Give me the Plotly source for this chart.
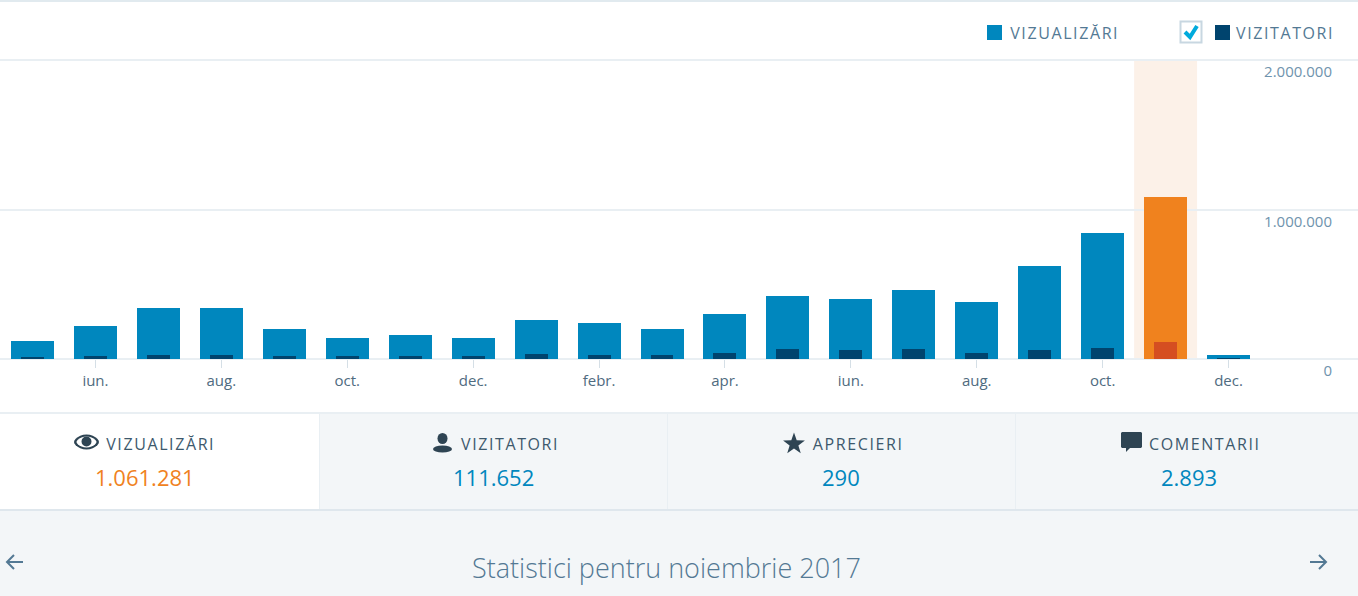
import math
import plotly.graph_objects as go

W, H = 1358, 596

positions = list(range(20))
views = [120000, 221000, 341000, 341000, 200000, 140000, 160000, 140000, 261000, 241000,
         200000, 301000, 421000, 401000, 461000, 381000, 622000, 843000, 1083000, 25000]
visitors = [14000, 20000, 27000, 27000, 20000, 20000, 20000, 20000, 33000, 27000,
            27000, 40000, 67000, 60000, 67000, 40000, 60000, 74000, 114000, 5000]
highlight_index = 18
tick_positions = [1, 3, 5, 7, 9, 11, 13, 15, 17, 19]
tick_labels = ["iun.", "aug.", "oct.", "dec.", "febr.", "apr.", "iun.", "aug.", "oct.", "dec."]
y_ticks = [0, 1000000, 2000000]
y_labels = ["0", "1.000.000", "2.000.000"]

BLUE, NAVY, ORANGE, RED = "#0087be", "#00446e", "#f0821e", "#d54e21"
PANEL, RULE, DARK, SLATE = "#f3f6f8", "#e9eff3", "#2e4453", "#537994"

def px(x): return x / W
def py(y): return 1 - y / H

def rect(x0, y0, x1, y1, fill, line=None, width=0, layer="below"):
    return dict(type="rect", xref="paper", yref="paper", x0=px(x0), x1=px(x1), y0=py(y0), y1=py(y1),
                fillcolor=fill, line=dict(color=line or fill, width=width), layer=layer)

def path(points, fill=None, line=None, width=0, close=True):
    d = "M" + " L".join(f"{px(a):.5f},{py(b):.5f}" for a, b in points) + (" Z" if close else "")
    return dict(type="path", xref="paper", yref="paper", path=d, layer="above",
                fillcolor=fill or "rgba(0,0,0,0)", line=dict(color=line or "rgba(0,0,0,0)", width=width))

def circle(cx, cy, rx, ry, fill):
    return dict(type="circle", xref="paper", yref="paper", x0=px(cx - rx), x1=px(cx + rx),
                y0=py(cy + ry), y1=py(cy - ry), fillcolor=fill, line=dict(width=0), layer="above")

def lens(cx, cy, rx, ry, fill):
    pts = [(cx + rx * math.cos(t / 24 * 2 * math.pi),
            cy + ry * math.sin(t / 24 * 2 * math.pi) * abs(math.sin(t / 24 * 2 * math.pi)) ** 0.25)
           for t in range(24)]
    return path(pts, fill=fill)

def star(cx, cy, R, r, fill):
    pts = []
    for k in range(10):
        a = -math.pi / 2 + k * math.pi / 5
        rad = R if k % 2 == 0 else r
        pts.append((cx + rad * math.cos(a), cy + rad * math.sin(a)))
    return path(pts, fill=fill)

def text(x, y, s, size, color, cls_weight=400):
    return dict(xref="paper", yref="paper", x=px(x), y=py(y), text=s, showarrow=False,
                xanchor="center", yanchor="middle",
                font=dict(family="Open Sans", size=size, color=color, weight=cls_weight))

shapes = [
    rect(0, 0, W, 2, "#e1eaef"),
    rect(0, 413, W, 596, PANEL),
    rect(0, 413, 320, 510, "#ffffff"),
    rect(0, 412, W, 414, RULE),
    rect(0, 509, W, 511, "#dfe7ed"),
    rect(319, 414, 320, 509, RULE),
    rect(667, 414, 668, 509, RULE),
    rect(1015, 414, 1016, 509, RULE),
    # highlighted month band, tied to the data axis
    dict(type="rect", xref="x", yref="paper", x0=highlight_index - 0.5, x1=highlight_index + 0.5,
         y0=py(359), y1=py(60), fillcolor="#fcf1e8", line=dict(width=0), layer="below"),
    # legend
    rect(987, 25, 1002, 40, BLUE, layer="above"),
    rect(1215, 25, 1230, 40, NAVY, layer="above"),
    rect(1180.5, 21.5, 1201.5, 42.5, "#ffffff", "#c8d7e1", 2, layer="above"),
    path([(1185, 32), (1190, 37), (1197, 26)], line="#00aadc", width=4, close=False),
    # eye
    lens(86.5, 442, 12.5, 7.5, DARK),
    lens(86.5, 442, 10, 5.5, "#ffffff"),
    circle(86.5, 441.5, 5, 5, DARK),
    # person
    circle(442.5, 438.5, 5, 5.5, DARK),
    circle(442.5, 449, 9.5, 3.6, DARK),
    # star
    star(794, 444, 11.5, 4.6, DARK),
    # speech bubble
    path([(1122, 432), (1141, 432), (1142, 433), (1142, 447), (1141, 448), (1130, 448),
          (1126, 452), (1126, 448), (1122, 448), (1121, 447), (1121, 433)], fill=DARK),
    # arrows
    path([(23, 562), (7, 562)], line=SLATE, width=2, close=False),
    path([(14, 555), (7, 562), (14, 569)], line=SLATE, width=2, close=False),
    path([(1310, 562), (1326, 562)], line=SLATE, width=2, close=False),
    path([(1319, 555), (1326, 562), (1319, 569)], line=SLATE, width=2, close=False),
]

annotations = [
    text(1064.5, 33, "VIZUALIZĂRI", 16, SLATE),
    text(1284.5, 33, "VIZITATORI", 16, SLATE),
    text(160.5, 444, "VIZUALIZĂRI", 16, "#3d596d"),
    text(509.5, 444, "VIZITATORI", 16, "#3d596d"),
    text(857.5, 444, "APRECIERI", 16, "#3d596d"),
    text(1204.5, 444, "COMENTARII", 16, "#3d596d"),
    text(145, 477, "1.061.281", 22, ORANGE),
    text(493.5, 477, "111.652", 22, BLUE),
    text(841, 477, "290", 22, BLUE),
    text(1189, 477, "2.893", 22, BLUE),
    text(666, 567, "Statistici pentru noiembrie 2017", 27, SLATE, 300),
]

fig = go.Figure()
fig.add_bar(x=positions, y=views, width=0.683, showlegend=False, name="Vizualizări",
            marker=dict(color=[ORANGE if i == highlight_index else BLUE for i in positions], line_width=0))
fig.add_bar(x=positions, y=visitors, width=0.365, showlegend=False, name="Vizitatori",
            marker=dict(color=[RED if i == highlight_index else NAVY for i in positions], line_width=0))

PX_PER_UNIT = 299 / 2000000
fig.update_layout(
    width=W, height=H, margin=dict(l=0, r=0, t=0, b=0, pad=0), autosize=False,
    paper_bgcolor="#ffffff", plot_bgcolor="rgba(0,0,0,0)", barmode="overlay", bargap=0,
    shapes=shapes, annotations=annotations,
    font=dict(family="Open Sans"),
    xaxis=dict(range=[-32.5 / 62.95, (W - 32.5) / 62.95], domain=[0, 1], tickmode="array",
               tickvals=tick_positions, ticktext=tick_labels, ticks="outside", ticklen=8, tickwidth=1,
               tickcolor="#d5dfe6", showgrid=False, zeroline=False, showline=False,
               tickfont=dict(family="Open Sans", size=15, color="#4f6b80"),
               anchor="free", position=py(359), tickangle=0),
    yaxis=dict(range=[-31 / PX_PER_UNIT, 319 / PX_PER_UNIT], domain=[py(390), py(40)], tickmode="array",
               tickvals=y_ticks, ticktext=y_labels, side="right", ticklabelposition="inside",
               ticklabelshift=12, ticklabelstandoff=23, ticks="", showgrid=True, gridcolor=RULE, gridwidth=2,
               zeroline=True, zerolinecolor=RULE, zerolinewidth=2, showline=False,
               tickfont=dict(family="Open Sans", size=15, color="#6f93ad"), anchor="x"),
)

post = """
document.body.style.margin='0';document.body.style.overflow='hidden';
document.querySelectorAll('.annotation-text').forEach(function(t){
  if(/^[A-ZĂ]+$/.test(t.textContent)){t.style.letterSpacing='1.6px';}
});
"""
fig.write_html("out.html", post_script=post, config=dict(displayModeBar=False))
